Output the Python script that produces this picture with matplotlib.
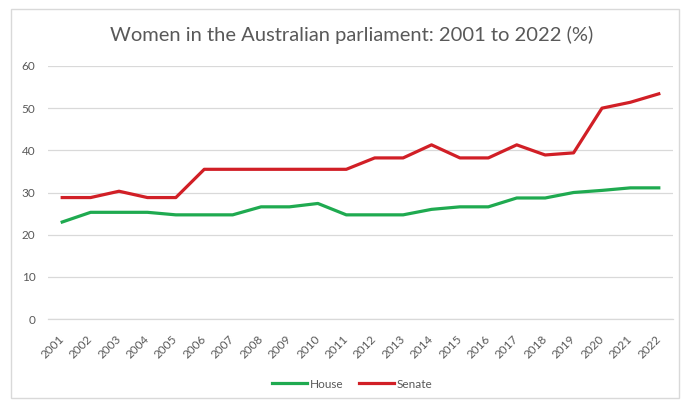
import matplotlib
matplotlib.use("Agg")
from matplotlib import pyplot as plt
from matplotlib.patches import Rectangle

years = [str(y) for y in range(2001, 2023)]
house = [23.0, 25.3, 25.3, 25.3, 24.7, 24.7, 24.7, 26.6, 26.6, 27.4, 24.7,
         24.7, 24.7, 26.0, 26.6, 26.6, 28.7, 28.7, 30.0, 30.5, 31.1, 31.1]
senate = [28.8, 28.8, 30.3, 28.8, 28.8, 35.5, 35.5, 35.5, 35.5, 35.5, 35.5,
          38.2, 38.2, 41.3, 38.2, 38.2, 41.3, 38.9, 39.4, 50.0, 51.4, 53.4]

plt.rcParams['font.family'] = ['Lato', 'DejaVu Sans']
text_color = "#595959"

fig = plt.figure(figsize=(6.81, 4.03), dpi=100)
# light frame around the chart area
fig.patches.append(Rectangle((11 / 681, 5 / 403), 668 / 681, 389 / 403,
                             transform=fig.transFigure, fill=False,
                             edgecolor="#d9d9d9", linewidth=1))

ax = fig.add_axes([48 / 681, 84 / 403, 625 / 681, 253 / 403])
x = range(len(years))
ax.plot(x, house, color="#1faa50", linewidth=2.3, label="House",
        solid_joinstyle="round")
ax.plot(x, senate, color="#d11f26", linewidth=2.3, label="Senate",
        solid_joinstyle="round")

ax.set_xlim(-0.5, len(years) - 0.5)
ax.set_ylim(0, 60)
ax.set_yticks(range(0, 61, 10))
ax.set_xticks(list(x))
ax.set_xticklabels(years, rotation=45, ha="right", va="center",
                   rotation_mode="anchor")
ax.tick_params(axis="both", length=0, colors=text_color, labelsize=8.5)
ax.tick_params(axis="y", pad=9)
ax.tick_params(axis="x", pad=13)
ax.grid(axis="y", color="#d9d9d9", linewidth=0.9)
ax.set_axisbelow(True)
for side in ["top", "right", "left"]:
    ax.spines[side].set_visible(False)
ax.spines["bottom"].set_color("#d9d9d9")
ax.spines["bottom"].set_linewidth(0.9)

fig.text(352 / 681, 1 - 35 / 403, "Women in the Australian parliament: 2001 to 2022 (%)",
         ha="center", va="center", fontsize=14.5, color=text_color)

fig.legend(loc="center", bbox_to_anchor=(352 / 681, 1 - 384 / 403), ncol=2,
           frameon=False, fontsize=8.5, handlelength=3, handletextpad=0.2,
           columnspacing=1.3, labelcolor=text_color)

fig.savefig("out.png", dpi=100)
